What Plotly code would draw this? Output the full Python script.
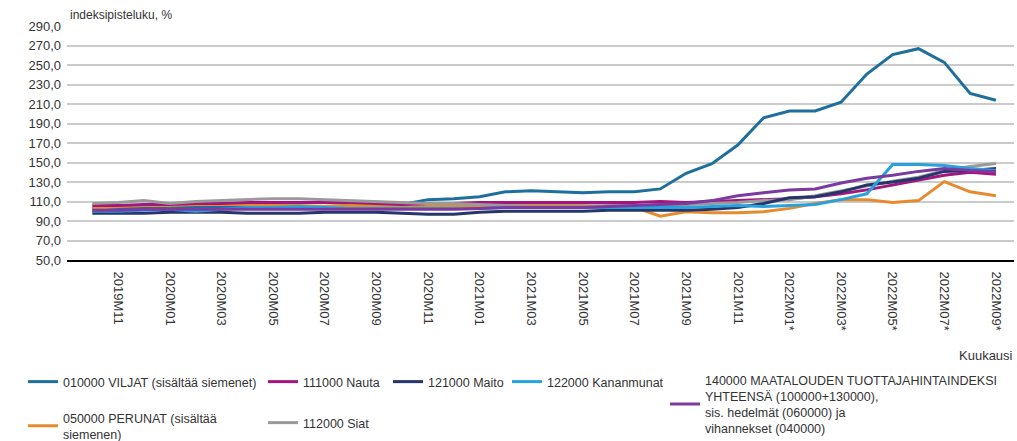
import plotly.graph_objects as go

months = ["2019M10", "2019M11", "2019M12",
          "2020M01", "2020M02", "2020M03", "2020M04", "2020M05", "2020M06",
          "2020M07", "2020M08", "2020M09", "2020M10", "2020M11", "2020M12",
          "2021M01", "2021M02", "2021M03", "2021M04", "2021M05", "2021M06",
          "2021M07", "2021M08", "2021M09", "2021M10", "2021M11", "2021M12",
          "2022M01*", "2022M02*", "2022M03*", "2022M04*", "2022M05*", "2022M06*",
          "2022M07*", "2022M08*", "2022M09*"]

viljat = [103, 103, 104, 104, 105, 105, 104, 104, 104, 105, 106, 106,
          107, 112, 113, 115, 120, 121, 120, 119, 120, 120, 123, 139,
          149, 168, 196, 203, 203, 212, 241, 261, 267, 253, 221, 214]
perunat = [103, 105, 106, 106, 107, 107, 107, 107, 106, 105, 106, 106,
           106, 106, 105, 106, 106, 106, 106, 106, 105, 104, 95, 99.5,
           98.5, 98.5, 99.5, 103, 108, 112, 112, 109, 111, 130.5, 120, 116]
nauta = [106, 106, 107, 107, 108, 108, 109, 109, 109, 109, 109, 108,
         107, 108, 108, 109, 109, 109, 109, 109, 109, 109, 110, 109,
         110, 111, 112, 113, 115, 118, 122, 127, 132, 137, 140, 138]
siat = [108, 109, 111, 108, 110, 111, 112, 113, 113, 112, 111, 110,
        109, 108, 108, 107, 106, 105, 105, 105, 106, 106, 107, 107,
        108, 109, 111, 112, 116, 121, 126, 131, 135, 142, 146, 149]
maito = [98, 98, 98, 99, 99, 99, 98, 98, 98, 99, 99, 99,
         98, 97, 97, 99, 100, 100, 100, 100, 101, 101, 101, 101,
         102, 104, 108, 114, 115, 120, 127, 130, 134, 141, 142, 144]
kananmunat = [100, 100, 101, 102, 100, 102, 104, 104, 105, 104, 103, 103,
              103, 103, 103, 103, 104, 104, 104, 104, 104, 104, 104, 104,
              105, 106, 105, 106, 107, 112, 118, 148, 148, 147, 144, 142]
maatalous = [101, 101, 102, 102, 102, 102, 102, 102, 102, 102, 102, 102,
             102, 102, 102, 103, 104, 104, 104, 104, 105, 106, 107, 108,
             111, 116, 119, 122, 123, 129, 134, 137, 141, 144, 142, 141]

tick_labels = months[1::2]

series = [
    ("010000 VILJAT (sisältää siemenet)", viljat, "#1f6f9c", "legend"),
    ("050000 PERUNAT (sisältää<br>siemenen)", perunat, "#e68a2e", "legend2"),
    ("111000 Nauta", nauta, "#a4167f", "legend3"),
    ("112000 Siat", siat, "#9a9a9a", "legend4"),
    ("121000 Maito", maito, "#26356a", "legend5"),
    ("122000 Kananmunat", kananmunat, "#27a2dc", "legend6"),
    ("140000 MAATALOUDEN TUOTTAJAHINTAINDEKSI<br>YHTEENSÄ (100000+130000),<br>"
     "sis. hedelmät (060000) ja<br>vihannekset (040000)", maatalous, "#7a3a9f", "legend7"),
]

W, H = 1017, 441
L, R, T, B = 67, 3, 26, 181
pw = W - L - R
ph = H - T - B

def px(x):
    return (x - L) / pw

def py(y):
    return (H - B - y) / ph

idx = list(range(len(months)))
fig = go.Figure()
for name, vals, color, lg in series:
    fig.add_trace(go.Scatter(x=idx, y=vals, mode="lines", name=name,
                             line=dict(color=color, width=3), legend=lg))

# (text start x, centre y) of each legend entry
legend_pos = {
    "legend": (63, 382),
    "legend2": (63, 426),
    "legend3": (303, 382),
    "legend4": (303, 423),
    "legend5": (428, 382),
    "legend6": (547, 382),
    "legend7": (705, 404),
}
leg_font = dict(family="Liberation Sans, Arial, sans-serif", size=12.5, color="#333333")
layout_legends = {}
for key, (tx, ty) in legend_pos.items():
    layout_legends[key] = dict(x=px(tx - 40), y=py(ty), xanchor="left", yanchor="middle",
                               font=leg_font, bgcolor="rgba(0,0,0,0)", itemwidth=30,
                               itemclick=False)

fig.update_layout(
    width=W, height=H,
    margin=dict(l=L, r=R, t=T, b=B, pad=0, autoexpand=False),
    paper_bgcolor="white", plot_bgcolor="white",
    separators=", ",
    font=dict(family="Liberation Sans, Arial, sans-serif", size=12, color="#333333"),
    showlegend=True,
    **layout_legends,
)
fig.update_xaxes(
    range=[-0.98, 35.7], automargin=False,
    tickvals=idx[1::2], ticktext=tick_labels, tickangle=90,
    showgrid=False, zeroline=False,
    showline=True, linecolor="black", linewidth=2,
    ticks="", ticklabelstandoff=7,
    tickfont=dict(size=13, color="#333333"),
)
fig.update_yaxes(
    range=[50, 290.3], dtick=20, tick0=50, tickformat=".1f", automargin=False,
    showgrid=True, gridcolor="#cbcbcb", gridwidth=1.6,
    zeroline=False, showline=False, ticks="", ticklabelstandoff=5,
    tickfont=dict(size=13, color="#333333"),
)
fig.add_annotation(text="indeksipisteluku, %", x=px(68), y=py(15), xref="paper", yref="paper",
                   xanchor="left", yanchor="middle", showarrow=False,
                   font=dict(size=12, color="#333333"))
fig.add_annotation(text="Kuukausi", x=px(1015), y=py(355), xref="paper", yref="paper",
                   xanchor="right", yanchor="middle", showarrow=False,
                   font=dict(size=13, color="#333333"))

fig.write_html("out.html", config={"displayModeBar": False},
               post_script="document.body.style.margin='0';document.body.style.overflow='hidden';")
